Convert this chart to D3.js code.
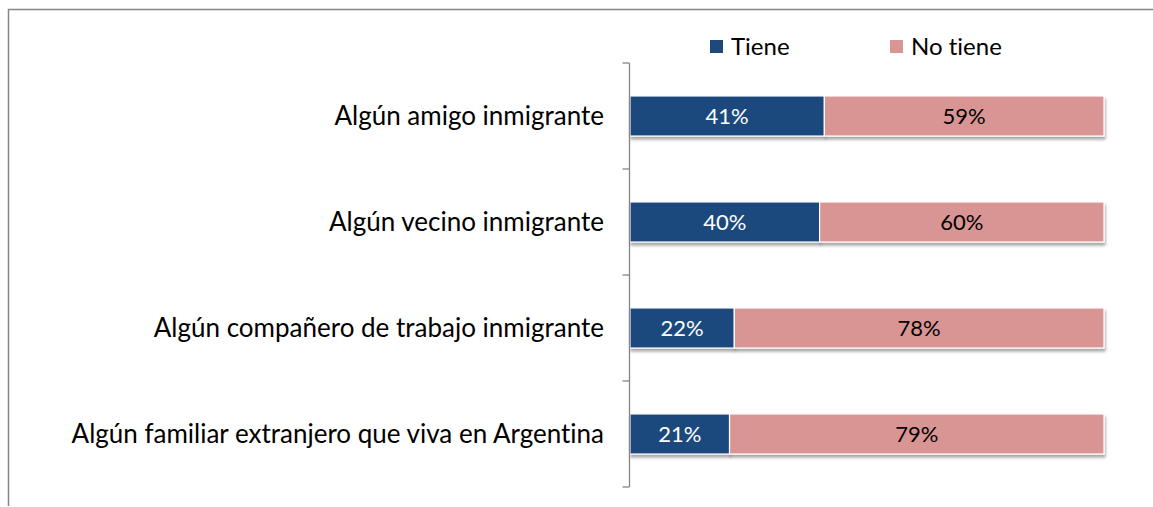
<!DOCTYPE html>
<html>
<head>
<meta charset="utf-8">
<script src="https://cdn.jsdelivr.net/npm/d3@7"></script>
<style>
  body { margin: 0; background: #fff; }
  svg { display: block; font-family: Lato, "Open Sans", sans-serif; font-variant-ligatures: none; }
</style>
</head>
<body>
<script>
var categories = [
  "Algún amigo inmigrante",
  "Algún vecino inmigrante",
  "Algún compañero de trabajo inmigrante",
  "Algún familiar extranjero que viva en Argentina"
];
var tiene = [41, 40, 22, 21];
var noTiene = [59, 60, 78, 79];
var seriesNames = ["Tiene", "No tiene"];
var colors = ["#1f497d", "#d99594"];

var width = 1153, height = 507;
var margin = { top: 63, right: 49, bottom: 20, left: 630 };

var svg = d3.select("body").append("svg")
  .attr("width", width).attr("height", height);

// drop shadow like the office chart
var defs = svg.append("defs");
var f = defs.append("filter").attr("id", "shadow")
  .attr("x", "-5%").attr("y", "-20%").attr("width", "110%").attr("height", "160%");
f.append("feGaussianBlur").attr("in", "SourceAlpha").attr("stdDeviation", 1.6);
f.append("feOffset").attr("dx", 1).attr("dy", 3).attr("result", "ob");
f.append("feComponentTransfer").append("feFuncA").attr("type", "linear").attr("slope", 0.35);
var m = f.append("feMerge");
m.append("feMergeNode");
m.append("feMergeNode").attr("in", "SourceGraphic");

// outer frame (top and left edges visible)
svg.append("path")
  .attr("d", "M8.5,506 V9.5 H1153")
  .attr("fill", "none").attr("stroke", "#868686").attr("stroke-width", 1.5);

var data = categories.map(function (c, i) {
  return { cat: c, values: [tiene[i], noTiene[i]] };
});

var x = d3.scaleLinear().domain([0, 100]).range([margin.left, width - margin.right]);
var y = d3.scaleBand().domain(categories)
  .range([margin.top, height - margin.bottom])
  .paddingInner(0.622).paddingOuter(0.311);

var rows = svg.selectAll(".row").data(data).enter().append("g")
  .attr("class", "row");

rows.each(function (d) {
  var g = d3.select(this);
  var start = 0;
  d.values.forEach(function (v, j) {
    var x0 = x(start), x1 = x(start + v);
    g.append("rect")
      .attr("x", x0).attr("y", y(d.cat))
      .attr("width", x1 - x0).attr("height", y.bandwidth())
      .attr("fill", colors[j])
      .attr("stroke", "#fff").attr("stroke-width", 1.2)
      .attr("filter", "url(#shadow)");
    g.append("text")
      .attr("x", (x0 + x1) / 2)
      .attr("y", y(d.cat) + y.bandwidth() / 2)
      .attr("dy", "0.36em")
      .attr("text-anchor", "middle")
      .style("font-size", "22px")
      .attr("fill", j === 0 ? "#fff" : "#000")
      .text(v + "%");
    start += v;
  });
});

// category axis with ticks between bands
var axisX = margin.left - 0.5;
var yTop = margin.top, yBot = height - margin.bottom;
svg.append("line")
  .attr("x1", axisX).attr("x2", axisX).attr("y1", yTop).attr("y2", yBot)
  .attr("stroke", "#868686").attr("stroke-width", 1.3);
var step = y.step();
d3.range(categories.length + 1).forEach(function (i) {
  var ty = yTop + i * step;
  svg.append("line")
    .attr("x1", axisX - 7).attr("x2", axisX).attr("y1", ty).attr("y2", ty)
    .attr("stroke", "#868686").attr("stroke-width", 1.3);
});

svg.selectAll(".cat").data(categories).enter().append("text")
  .attr("class", "cat")
  .attr("x", 604)
  .attr("y", function (d) { return y(d) + y.bandwidth() / 2; })
  .attr("dy", "0.36em")
  .attr("text-anchor", "end")
  .style("font-size", "26px")
  .attr("fill", "#000")
  .text(function (d) { return d; });

// legend
var legendX = [710, 890];
var legend = svg.selectAll(".leg").data(seriesNames).enter().append("g")
  .attr("class", "leg")
  .attr("transform", function (d, i) { return "translate(" + legendX[i] + ",40)"; });
legend.append("rect")
  .attr("width", 13).attr("height", 13)
  .attr("fill", function (d, i) { return colors[i]; });
legend.append("text")
  .attr("x", 21).attr("y", 6.5).attr("dy", "0.36em")
  .style("font-size", "24px")
  .attr("fill", "#000")
  .text(function (d) { return d; });
</script>
</body>
</html>
